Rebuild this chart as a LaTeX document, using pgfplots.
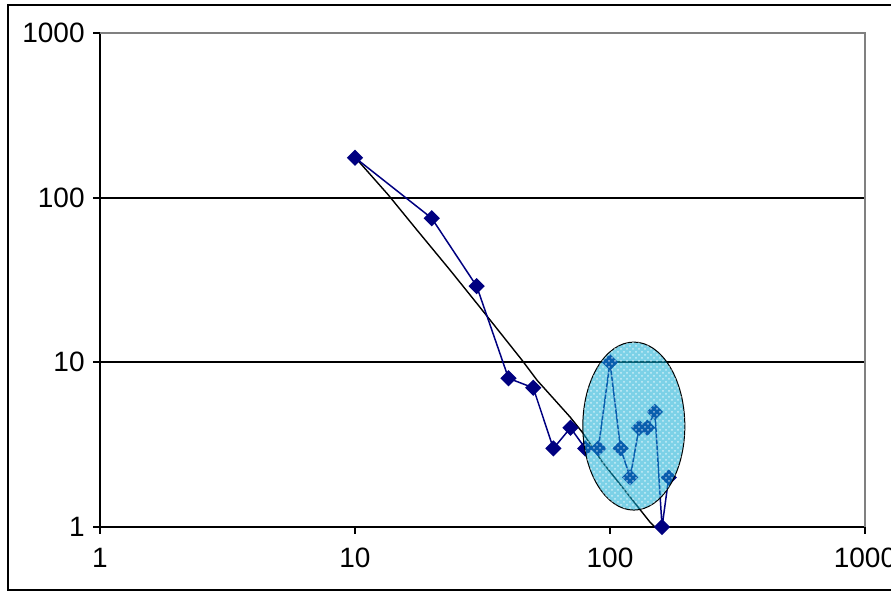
\documentclass[border=0pt]{standalone}
\usepackage{fontspec}
\setmainfont{Liberation Sans}
\usepackage{pgfplots}
\pgfplotsset{compat=1.18}
\usetikzlibrary{shapes.geometric,patterns}
\definecolor{navy}{HTML}{000080}
\definecolor{oval}{HTML}{10ACD4}
\definecolor{bordergray}{HTML}{808080}

\begin{document}
\begin{tikzpicture}
% page = 891 x 592 px at 0.5pt per px, axis box from px (100,33) to (865,527)
\useasboundingbox (-50pt,-32.5pt) rectangle (395.5pt,263.5pt);
\begin{axis}[
  at={(0pt,0pt)}, anchor=south west,
  scale only axis, width=382.5pt, height=247pt,
  xmode=log, ymode=log,
  xmin=1, xmax=1000, ymin=1, ymax=1000,
  xtick={1,10,100,1000}, xticklabels={1,10,100,1000},
  ytick={1,10,100,1000}, yticklabels={1,10,100,1000},
  xminorticks=false, yminorticks=false,
  axis lines=left,
  axis line style={-, black, line width=1pt},
  tick align=outside, major tick length=3.5pt,
  tick style={black, line width=1pt},
  ymajorgrids,
  major grid style={black, line width=1pt},
  tick label style={font=\fontsize{14}{16}\selectfont, black},
  yticklabel style={inner sep=0pt, xshift=-4pt},
  xticklabel style={inner sep=0pt, yshift=-7pt},
  clip=false,
]
% trend line
\addplot[black, line width=0.7pt, no marks] coordinates {
  (10,176) (13.5,104) (17.5,63.6) (23.6,36.3) (30.4,22.3) (45.2,10.3)
  (51.7,7.8) (69.7,4.66) (78.3,3.72) (93,2.5) (143.5,1.07) (150,1.0)
};
% measured series
\addplot[navy, line width=0.75pt, mark=square*, mark size=2.5pt,
  mark options={rotate=45, fill=navy, draw=navy}] coordinates {
  (10,175) (20,75) (30,29) (40,8) (50,7) (60,3) (70,4) (80,3) (90,3)
  (100,10) (110,3) (120,2) (130,4) (140,4) (150,5) (160,1) (170,2)
};
% gray top and right border
\draw[bordergray, line width=1pt] (rel axis cs:0,1) -- (rel axis cs:1,1) -- (rel axis cs:1,0);
\coordinate (ov) at (axis cs:124,4.1);
\end{axis}
% highlighted cluster, laid over the points
\node[ellipse, draw=black, line width=0.5pt,
  fill=oval, fill opacity=0.55,
  minimum width=51pt, minimum height=84pt, inner sep=0pt,
  postaction={fill opacity=0.6, pattern=crosshatch dots, pattern color=white}]
  at (ov) {};
% outer chart frame
\draw[black, line width=1pt] (400pt,261pt) -- (-46pt,261pt) -- (-46pt,-31.5pt) -- (400pt,-31.5pt);
\end{tikzpicture}
\end{document}
